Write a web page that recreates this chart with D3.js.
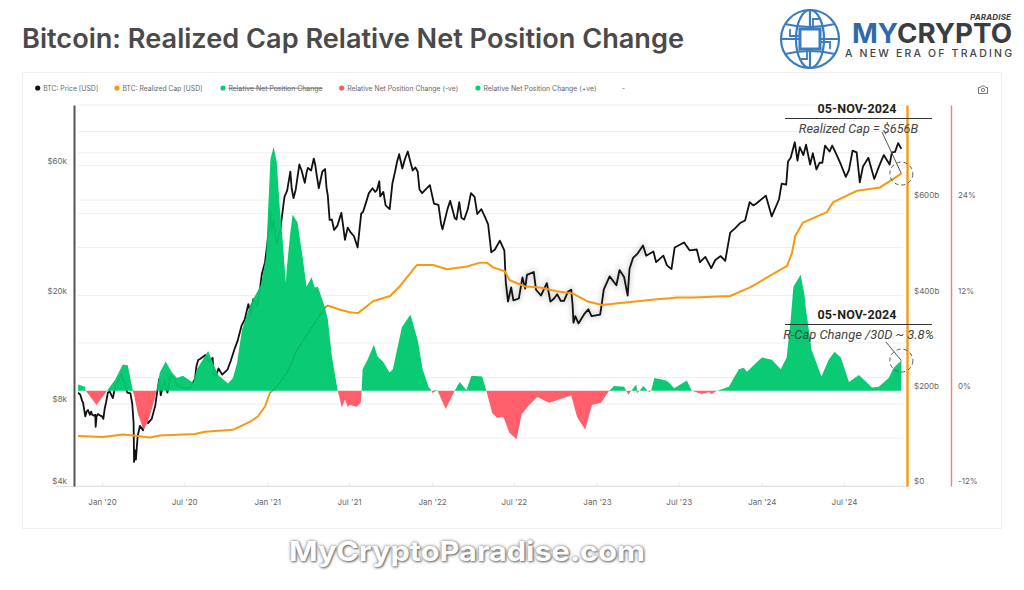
<!DOCTYPE html>
<html>
<head>
<meta charset="utf-8">
<script src="https://cdn.jsdelivr.net/npm/d3@7"></script>
<style>
  html, body { margin: 0; padding: 0; background: #fff; }
  svg { display: block; font-family: Inter, "Noto Sans", sans-serif; }
</style>
</head>
<body>
<script>
const xTickDates = ["2020-01-01","2020-07-01","2021-01-01","2021-07-01","2022-01-01","2022-07-01","2023-01-01","2023-07-01","2024-01-01","2024-07-01"];
const priceTicks = [4000, 8000, 20000, 60000];
const priceTickLabels = ["$4k", "$8k", "$20k", "$60k"];
const gridPrices = [4000, 6000, 8000, 10000, 13400, 20000, 30000, 40000, 44800, 60000, 66800, 80000, 100000];
const capTicks = [0, 200, 400, 600];
const capTickLabels = ["$0", "$200b", "$400b", "$600b"];
const pctTicks = [-12, 0, 12, 24];
const pctTickLabels = ["-12%", "0%", "12%", "24%"];

const legendNames = ["BTC: Price [USD]", "BTC: Realized Cap [USD]", "Relative Net Position Change", "Relative Net Position Change (-ve)", "Relative Net Position Change (+ve)", "-"];
const legendColors = ["#111111", "#f79a13", "#00d27a", "#ff5a66", "#00d27a", null];

const btcPrice = [
  ["2019-11-09",8800],["2019-11-14",8650],["2019-11-18",8200],["2019-11-20",8100],["2019-11-25",7200],["2019-11-28",7500],["2019-12-01",7600],
  ["2019-12-05",7300],["2019-12-08",7500],["2019-12-10",7300],["2019-12-14",7250],["2019-12-17",7300],["2019-12-18",6600],["2019-12-20",7200],["2019-12-23",7350],["2019-12-28",7250],
  ["2020-01-01",7200],["2020-01-04",7050],["2020-01-07",7700],["2020-01-10",8100],["2020-01-14",8800],["2020-01-18",8900],["2020-01-22",8600],["2020-01-25",8400],
  ["2020-01-31",9350],["2020-02-05",9600],["2020-02-12",10300],["2020-02-19",9600],["2020-02-26",8800],["2020-03-04",8750],
  ["2020-03-08",8000],["2020-03-11",6800],["2020-03-12",4900],["2020-03-14",5400],["2020-03-16",5000],["2020-03-20",6100],["2020-03-25",6650],
  ["2020-04-01",6400],["2020-04-06",7300],["2020-04-12",6800],["2020-04-20",7050],["2020-04-28",7900],["2020-05-02",8800],["2020-05-07",9900],
  ["2020-05-10",8600],["2020-05-18",9700],["2020-05-25",8800],["2020-06-01",10200],["2020-06-10",9800],["2020-06-15",9400],
  ["2020-06-25",9200],["2020-07-05",9100],["2020-07-15",9200],["2020-07-25",9900],["2020-07-28",11000],["2020-08-01",11600],["2020-08-05",11700],
  ["2020-08-17",12100],["2020-08-25",11400],["2020-09-02",11800],["2020-09-04",10300],["2020-09-09",10100],["2020-09-15",10800],["2020-09-23",10250],
  ["2020-10-05",10700],["2020-10-12",11500],["2020-10-21",12800],["2020-10-27",13600],["2020-11-05",15500],["2020-11-12",16300],
  ["2020-11-20",18600],["2020-11-26",17000],["2020-12-01",19400],["2020-12-10",18300],["2020-12-16",21300],["2020-12-20",24000],
  ["2020-12-27",26500],["2021-01-02",32000],["2021-01-08",40500],["2021-01-11",34500],["2021-01-15",38000],["2021-01-21",31000],
  ["2021-01-29",34000],["2021-02-08",46000],["2021-02-14",48500],["2021-02-21",57000],["2021-02-24",49500],["2021-02-28",45500],["2021-03-05",49000],
  ["2021-03-13",60500],["2021-03-18",57500],["2021-03-25",51800],["2021-03-29",56500],["2021-04-01",58800],["2021-04-08",57500],["2021-04-14",63600],["2021-04-17",60500],["2021-04-21",54500],["2021-04-25",49500],
  ["2021-05-03",57000],["2021-05-09",58200],["2021-05-12",50000],["2021-05-15",46500],["2021-05-19",37900],["2021-05-24",38000],["2021-05-29",34800],
  ["2021-06-05",36000],["2021-06-14",40200],["2021-06-18",36000],["2021-06-22",32000],["2021-06-28",35500],["2021-07-05",34000],["2021-07-12",33000],
  ["2021-07-20",30000],["2021-07-28",40000],["2021-08-01",40500],["2021-08-06",43000],["2021-08-14",47500],["2021-08-22",49500],["2021-08-28",48000],["2021-09-01",48800],
  ["2021-09-06",52500],["2021-09-08",46200],["2021-09-15",48000],["2021-09-20",42800],["2021-09-29",41500],["2021-10-05",51500],["2021-10-11",57000],["2021-10-15",61500],
  ["2021-10-20",66000],["2021-10-27",58500],["2021-11-02",63500],["2021-11-08",67500],["2021-11-10",65500],["2021-11-16",60000],["2021-11-19",57500],["2021-11-25",59000],["2021-11-30",57000],
  ["2021-12-04",49000],["2021-12-10",47500],["2021-12-15",48500],["2021-12-27",50800],["2022-01-05",43500],["2022-01-15",43000],["2022-01-21",36500],["2022-01-24",35000],
  ["2022-02-04",41500],["2022-02-10",44500],["2022-02-20",38500],["2022-02-24",38000],["2022-03-02",44000],["2022-03-07",38500],["2022-03-13",38000],["2022-03-21",41500],["2022-03-28",47500],
  ["2022-04-05",46000],["2022-04-11",39800],["2022-04-20",41500],["2022-04-29",38500],["2022-05-05",36500],["2022-05-10",30800],["2022-05-12",28800],["2022-05-20",29500],
  ["2022-05-31",31800],["2022-06-10",29200],["2022-06-13",22500],["2022-06-18",19000],["2022-06-25",21400],["2022-06-30",19200],["2022-07-12",19500],["2022-07-20",23300],["2022-07-26",21200],
  ["2022-07-30",23800],["2022-08-14",24400],["2022-08-19",21000],["2022-08-30",20000],["2022-09-12",22200],["2022-09-20",19000],["2022-09-28",19500],
  ["2022-10-05",20200],["2022-10-13",19100],["2022-10-20",19100],["2022-10-29",20700],["2022-11-05",21000],["2022-11-08",18500],["2022-11-10",15900],["2022-11-14",16800],["2022-11-21",15800],["2022-12-05",17200],["2022-12-13",17800],
  ["2022-12-20",16800],["2023-01-08",17000],["2023-01-12",18800],["2023-01-16",21000],["2023-01-29",23500],["2023-02-13",21800],["2023-02-20",24800],["2023-03-02",23400],
  ["2023-03-10",20000],["2023-03-14",25000],["2023-03-22",27500],["2023-04-01",28500],["2023-04-13",30500],["2023-04-20",28000],["2023-05-06",29000],["2023-05-12",26500],
  ["2023-05-28",28000],["2023-06-05",25800],["2023-06-15",25000],["2023-06-22",30000],["2023-07-13",31300],["2023-07-25",29300],["2023-08-10",29500],["2023-08-17",26500],["2023-08-29",27700],
  ["2023-09-11",25200],["2023-09-20",27000],["2023-10-02",27900],["2023-10-12",26800],["2023-10-23",34000],["2023-11-02",35200],["2023-11-15",37000],["2023-11-25",37700],["2023-12-05",44000],["2023-12-13",42800],
  ["2023-12-20",43500],["2024-01-10",46500],["2024-01-23",39000],["2024-02-08",45000],["2024-02-14",51500],["2024-02-24",51000],["2024-02-28",62000],["2024-03-05",64000],
  ["2024-03-14",73000],["2024-03-20",62500],["2024-03-25",70000],["2024-04-02",65500],["2024-04-08",71500],["2024-04-17",60500],["2024-04-23",66500],
  ["2024-05-01",58000],["2024-05-08",61500],["2024-05-14",61300],["2024-05-20",71000],["2024-05-30",67500],["2024-06-05",71000],["2024-06-14",66000],["2024-06-24",60500],["2024-07-05",54500],["2024-07-12",57700],["2024-07-20",68000],["2024-07-29",67000],
  ["2024-08-05",52000],["2024-08-12",59500],["2024-08-24",64000],["2024-09-06",53500],["2024-09-17",59800],["2024-09-27",65500],["2024-10-10",60500],["2024-10-15",67000],["2024-10-22",67300],
  ["2024-10-29",72500],["2024-11-05",69000]
];

// billions of USD
const realizedCap = [
  ["2019-11-09",105],["2020-01-03",103],["2020-02-16",108],["2020-03-10",106],["2020-04-16",102],["2020-05-08",106],
  ["2020-07-25",109],["2020-08-16",114],["2020-10-17",118],["2020-11-24",135],["2020-12-11",146],["2020-12-27",167],
  ["2021-01-07",196],["2021-01-22",208],["2021-02-14",238],["2021-03-08",286],["2021-04-06",328],["2021-05-09",375],
  ["2021-05-15",379],["2021-06-11",370],["2021-07-03",365],["2021-07-21",363],["2021-08-10",378],["2021-08-23",388],
  ["2021-09-30",399],["2021-10-22",420],["2021-11-28",464],["2022-01-03",464],["2022-02-03",455],["2022-03-19",461],
  ["2022-04-17",469],["2022-05-02",469],["2022-05-16",459],["2022-06-11",451],["2022-06-22",432],["2022-07-26",419],
  ["2022-08-28",417],["2022-10-04",409],["2022-11-09",404],["2022-12-10",388],["2023-01-12",380],["2023-02-28",385],
  ["2023-05-14",392],["2023-06-12",394],["2023-06-27",396],["2023-08-02",396],["2023-10-23",399],["2023-12-06",417],
  ["2024-01-13",438],["2024-02-26",462],["2024-03-08",490],["2024-03-15",525],["2024-04-01",553],["2024-05-24",575],
  ["2024-06-07",596],["2024-07-30",620],["2024-09-19",627],["2024-11-05",656]
];

// percent
const netPositionChange = [
  ["2019-11-09",0.8],["2019-11-24",0.5],["2019-11-26",0],["2019-12-20",-1.8],["2020-01-12",0],["2020-01-30",1.4],
  ["2020-02-16",3.3],["2020-02-27",3.2],["2020-03-09",0.1],["2020-03-13",-0.8],["2020-03-20",-2.8],["2020-04-02",-4.9],
  ["2020-04-11",-4],["2020-04-20",-2.4],["2020-05-01",0],["2020-05-08",2.3],["2020-05-21",3.7],["2020-06-04",2.3],
  ["2020-06-15",1.6],["2020-06-28",1.9],["2020-07-21",1],["2020-07-29",2.7],["2020-08-23",5],["2020-09-03",3.5],
  ["2020-09-14",2],["2020-10-06",0.9],["2020-10-17",1.6],["2020-10-26",3.5],["2020-11-06",7.7],["2020-11-24",10.8],
  ["2020-12-18",13.4],["2020-12-29",16.8],["2021-01-01",20.5],["2021-01-08",29.2],["2021-01-15",30.7],["2021-01-22",28.8],
  ["2021-01-28",23.5],["2021-02-04",19],["2021-02-11",13.6],["2021-02-13",15.3],["2021-02-20",19.4],["2021-02-26",22.2],
  ["2021-03-09",21.2],["2021-03-20",16.9],["2021-03-29",13.1],["2021-04-09",14.3],["2021-04-16",13],["2021-04-23",13.1],
  ["2021-05-08",10.6],["2021-05-15",9],["2021-05-24",4.3],["2021-06-06",0],["2021-06-15",-2.1],["2021-06-22",-1.1],
  ["2021-06-28",-2],["2021-07-03",-1.8],["2021-07-18",-2],["2021-07-27",-1.5],["2021-07-29",0],["2021-07-31",2.7],
  ["2021-08-11",3.9],["2021-08-25",5.8],["2021-09-02",4.3],["2021-09-14",3.7],["2021-09-29",2.3],["2021-10-06",2.7],
  ["2021-10-26",8],["2021-11-14",9.6],["2021-11-30",6.4],["2021-12-11",2.7],["2021-12-24",0.5],["2021-12-31",0],
  ["2022-01-02",-0.3],["2022-01-09",0.1],["2022-01-13",0],["2022-01-31",-2.3],["2022-02-20",0],["2022-03-03",1.1],
  ["2022-03-18",0.1],["2022-03-29",1.9],["2022-04-22",1.8],["2022-05-01",0],["2022-05-14",-2.8],["2022-05-25",-3.4],
  ["2022-06-08",-3.3],["2022-06-21",-5.3],["2022-07-07",-6.1],["2022-07-18",-3],["2022-08-04",-1.8],["2022-08-22",-0.8],
  ["2022-09-17",-1.5],["2022-11-05",-0.6],["2022-11-18",-3.3],["2022-12-06",-4.9],["2022-12-21",-1.8],["2023-01-10",-1.5],
  ["2023-01-28",0],["2023-02-08",0.6],["2023-03-02",0.5],["2023-03-07",0],["2023-03-11",-0.5],["2023-03-18",0],
  ["2023-03-29",0.8],["2023-03-31",-0.3],["2023-04-05",0],["2023-04-14",0.6],["2023-04-23",0],["2023-04-27",-0.2],
  ["2023-05-01",0],["2023-05-08",1.6],["2023-06-03",1.3],["2023-06-10",1],["2023-06-21",0.3],["2023-07-19",1.3],
  ["2023-07-30",0],["2023-08-21",-0.4],["2023-09-06",-0.2],["2023-09-12",-0.4],["2023-09-24",0],["2023-10-20",0.5],
  ["2023-11-11",2.7],["2023-11-22",2.9],["2023-11-29",2.4],["2024-01-01",4.2],["2024-01-23",3.9],["2024-02-12",2.7],
  ["2024-02-25",4.2],["2024-03-05",9],["2024-03-11",13.1],["2024-03-27",14.6],["2024-04-05",11.9],["2024-04-07",10.6],
  ["2024-04-20",5.2],["2024-05-12",1.8],["2024-05-28",3.9],["2024-06-10",4.9],["2024-06-24",4.2],["2024-07-12",1.1],
  ["2024-08-03",2],["2024-09-01",0.4],["2024-09-16",0.5],["2024-10-08",1.6],["2024-10-19",2.9],["2024-11-05",3.8]
];

const parseDate = d3.utcParse("%Y-%m-%d");
const width = 1024, height = 590;
const plotTop = 105, plotBottom = 486, plotLeft = 74, gridLeft = 78, gridRight = 903;
const capAxisX = 907, pctAxisX = 951;
const green = "#00c96e", red = "#ff5a66", orange = "#f79a13";

const svg = d3.select("body").append("svg").attr("width", width).attr("height", height);

const defs = svg.append("defs");
defs.append("filter").attr("id", "smudge").attr("x", "-5%").attr("y", "-20%").attr("width", "110%").attr("height", "140%")
  .append("feGaussianBlur").attr("stdDeviation", 2.5);

const x = d3.scaleUtc()
  .domain([parseDate("2020-01-01"), parseDate("2024-07-01")])
  .range([102, 844]);
const yPrice = d3.scaleLog().domain([4000, 100000]).range([plotBottom, plotTop]);
const yCap = d3.scaleLinear().domain([0, 800]).range([plotBottom, plotTop]);
const yPct = d3.scaleLinear().domain([-12, 36]).range([plotBottom, plotTop]);

///////////////////////
// Title and card
svg.append("text").attr("x", 22).attr("y", 48)
  .attr("font-size", 26.5).attr("font-weight", 600).attr("fill", "#4a4a4a")
  .attr("textLength", 662).attr("lengthAdjust", "spacingAndGlyphs")
  .text("Bitcoin: Realized Cap Relative Net Position Change");

svg.append("rect").attr("x", 22.5).attr("y", 72.5).attr("width", 979).attr("height", 456)
  .attr("fill", "#fff").attr("stroke", "#efefef");

///////////////////////
// Legend
const legendDotX = [37.7, 117, 223, 341.7, 478, 622];
const legendWidths = [55, 80, 94, 111, 113, 3];
legendNames.forEach((name, i) => {
  if (legendColors[i]) {
    svg.append("circle").attr("cx", legendDotX[i]).attr("cy", 88).attr("r", 2.6).attr("fill", legendColors[i]);
  }
  const t = svg.append("text").attr("x", legendColors[i] ? legendDotX[i] + 5.5 : legendDotX[i]).attr("y", 90.5)
    .attr("font-size", 7).attr("fill", "#666")
    .attr("textLength", legendWidths[i]).attr("lengthAdjust", "spacingAndGlyphs")
    .text(name);
  if (i === 2) t.attr("text-decoration", "line-through");
});

// camera icon
const cam = svg.append("g").attr("transform", "translate(983,90)").attr("fill", "none").attr("stroke", "#777").attr("stroke-width", 1);
cam.append("path").attr("d", "M-4.5,-2.5 h2 l1,-1.5 h3 l1,1.5 h2 v6 h-9 z");
cam.append("circle").attr("r", 1.6);

///////////////////////
// Grid
svg.append("g").selectAll("line").data(gridPrices).join("line")
  .attr("x1", gridLeft).attr("x2", gridRight)
  .attr("y1", d => yPrice(d)).attr("y2", d => yPrice(d))
  .attr("stroke", "#eeeeee").attr("stroke-width", 1);

// the reference has the $20k gridline wiped away behind the price dip
svg.append("line")
  .attr("x1", x(parseDate("2021-08-15"))).attr("x2", x(parseDate("2023-06-15")))
  .attr("y1", yPrice(20000)).attr("y2", yPrice(20000))
  .attr("stroke", "#fff").attr("stroke-width", 2);

///////////////////////
// Axes
function styleAxis(g, color) {
  g.selectAll("text").attr("fill", "#666").attr("font-size", 8).attr("font-family", "Inter, sans-serif");
  g.selectAll(".tick line").attr("stroke", color);
}

svg.append("g").attr("transform", `translate(0,${plotBottom})`)
  .call(d3.axisBottom(x).tickValues(xTickDates.map(parseDate)).tickFormat(d3.utcFormat("%b '%y")).tickSize(-3).tickPadding(13))
  .call(g => g.select(".domain").attr("d", `M${gridLeft - 22},0.5H${gridRight + 5}`).attr("stroke", "#e0e0e0"))
  .call(g => styleAxis(g, "#e8e8e8"));

svg.append("g").attr("transform", `translate(${plotLeft},0)`)
  .call(d3.axisLeft(yPrice).tickValues(priceTicks).tickFormat((d, i) => priceTickLabels[i]).tickSize(0).tickPadding(7))
  .call(g => g.select(".domain").attr("stroke", "#555").attr("stroke-width", 2))
  .call(g => styleAxis(g, "none"))
  .call(g => g.selectAll("text").attr("dy", "-0.3em"));

svg.append("g").attr("transform", `translate(${capAxisX},0)`)
  .call(d3.axisRight(yCap).tickValues(capTicks).tickFormat((d, i) => capTickLabels[i]).tickSize(0).tickPadding(7))
  .call(g => g.select(".domain").attr("stroke", orange).attr("stroke-width", 2.4))
  .call(g => styleAxis(g, "none"))
  .call(g => g.selectAll("text").attr("dy", "-0.3em"));

svg.append("g").attr("transform", `translate(${pctAxisX},0)`)
  .call(d3.axisRight(yPct).tickValues(pctTicks).tickFormat((d, i) => pctTickLabels[i]).tickSize(0).tickPadding(7))
  .call(g => g.select(".domain").attr("stroke", "#ff7a7a").attr("stroke-width", 1.4))
  .call(g => styleAxis(g, "none"))
  .call(g => g.selectAll("text").attr("dy", "-0.3em"));

///////////////////////
// Series
const lineOf = yScale => d3.line().x(d => x(parseDate(d[0]))).y(d => yScale(d[1]));

// grey smudge left behind around the price in the 2022 dip
svg.append("path").datum(btcPrice.filter(d => d[0] >= "2022-06-13" && d[0] <= "2023-04-20")).attr("d", lineOf(yPrice))
  .attr("fill", "none").attr("stroke", "#999").attr("stroke-width", 5).attr("stroke-opacity", 0.35)
  .attr("filter", "url(#smudge)");

svg.append("path").datum(btcPrice).attr("d", lineOf(yPrice))
  .attr("fill", "none").attr("stroke", "#111").attr("stroke-width", 1.8).attr("stroke-linejoin", "round");

svg.append("path").datum(realizedCap).attr("d", lineOf(yCap))
  .attr("fill", "none").attr("stroke", orange).attr("stroke-width", 2).attr("stroke-linejoin", "round");

const areaOf = clampFn => d3.area()
  .x(d => x(parseDate(d[0])))
  .y0(yPct(0))
  .y1(d => yPct(clampFn(d[1], 0)));

svg.append("path").datum(netPositionChange).attr("d", areaOf(Math.max))
  .attr("fill", green).attr("fill-opacity", 0.96);
svg.append("path").datum(netPositionChange).attr("d", areaOf(Math.min))
  .attr("fill", red).attr("fill-opacity", 0.96);

// the covered stretch of the cap line shows through as a fine dotted trace
const capUnderGreen = realizedCap.filter(d => d[0] >= "2021-01-07" && d[0] <= "2021-05-15");
svg.append("path").datum(capUnderGreen).attr("d", lineOf(yCap))
  .attr("fill", "none").attr("stroke", "#0a7a48").attr("stroke-width", 0.8).attr("stroke-dasharray", "1 1.5");

///////////////////////
// Annotations
const lastDate = parseDate("2024-11-05");
const capLast = realizedCap[realizedCap.length - 1][1];
const pctLast = netPositionChange[netPositionChange.length - 1][1];

function annotate(px, py, topY, label, labelSize, pointerFrom) {
  const g = svg.append("g");
  g.append("text").attr("x", 857).attr("y", topY).attr("text-anchor", "middle")
    .attr("font-size", 12.5).attr("font-weight", 700).attr("fill", "#222")
    .attr("font-family", "Roboto, sans-serif").attr("textLength", 79).text("05-NOV-2024");
  g.append("line").attr("x1", 785).attr("x2", 932).attr("y1", topY + 5.5).attr("y2", topY + 5.5)
    .attr("stroke", "#333").attr("stroke-width", 1);
  g.append("text").attr("x", 858.5).attr("y", topY + 19.5).attr("text-anchor", "middle")
    .attr("font-size", labelSize).attr("font-style", "italic").attr("fill", "#444")
    .attr("font-family", "Roboto, sans-serif").text(label);
  g.append("line").attr("x1", pointerFrom[0]).attr("y1", pointerFrom[1]).attr("x2", px).attr("y2", py)
    .attr("stroke", "#555").attr("stroke-width", 1);
  g.append("circle").attr("cx", px).attr("cy", py).attr("r", 11.5)
    .attr("fill", "none").attr("stroke", "#555").attr("stroke-width", 1).attr("stroke-dasharray", "4 3");
}
annotate(x(lastDate), yCap(capLast), 113, "Realized Cap = $656B", 12.7, [882, 132]);
annotate(x(lastDate), yPct(pctLast), 319, "R-Cap Change /30D ~ 3.8%", 12.9, [886, 342]);

///////////////////////
// Logo
const logo = svg.append("g").attr("transform", "translate(810,39)").attr("fill", "none").attr("stroke", "#3b7cc0").attr("stroke-width", 2.2);
logo.append("circle").attr("r", 29);
logo.append("ellipse").attr("rx", 14).attr("ry", 29);
logo.append("line").attr("y1", -29).attr("y2", 29);
logo.append("line").attr("x1", -29).attr("x2", 29);
logo.append("path").attr("d", "M-25,-15 Q0,-9 25,-15 M-25,15 Q0,9 25,15");
logo.append("rect").attr("x", -10).attr("y", -10).attr("width", 20).attr("height", 20).attr("fill", "#fff").attr("stroke-width", 3);
logo.append("path").attr("d", "M-10,-3 H-20 V-10 M10,3 H20 V10 M-3,10 V20 H-9 M3,-10 V-20 H9").attr("stroke-width", 1.8);

svg.append("text").attr("x", 852).attr("y", 43)
  .attr("font-family", "Inter, sans-serif").attr("font-size", 27).attr("font-weight", 700)
  .attr("textLength", 160).attr("lengthAdjust", "spacingAndGlyphs")
  .call(t => t.append("tspan").attr("fill", "#2f69a8").text("MY"))
  .call(t => t.append("tspan").attr("fill", "#3a3d42").text("CRYPTO"));
svg.append("text").attr("x", 1011).attr("y", 19.5).attr("text-anchor", "end")
  .attr("font-family", "Inter, sans-serif").attr("font-size", 8).attr("font-weight", 700).attr("font-style", "italic")
  .attr("fill", "#3a3d42").attr("textLength", 41).text("PARADISE");
svg.append("text").attr("x", 845).attr("y", 57)
  .attr("font-family", "Inter, sans-serif").attr("font-size", 10.5).attr("font-weight", 500)
  .attr("fill", "#444").attr("textLength", 167).text("A NEW ERA OF TRADING");

///////////////////////
// Watermark
svg.append("text").attr("x", 467).attr("y", 561).attr("text-anchor", "middle")
  .attr("font-size", 27.5).attr("font-weight", 700).attr("fill", "#fff")
  .attr("textLength", 356).attr("lengthAdjust", "spacingAndGlyphs")
  .style("text-shadow", "0 0 3px #666, 1px 1px 2px #777")
  .text("MyCryptoParadise.com");
</script>
</body>
</html>
